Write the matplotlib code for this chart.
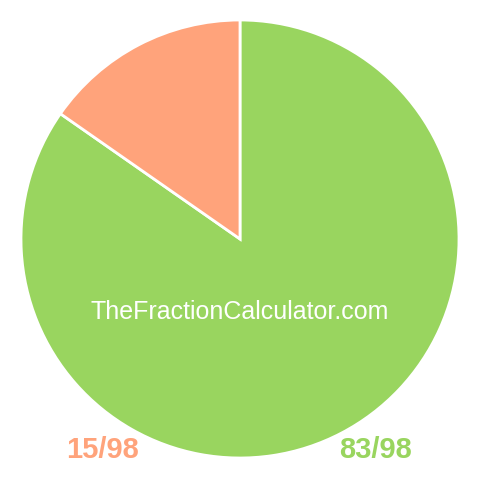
import matplotlib.pyplot as plt

# --- data ---
labels = ['83/98', '15/98']
values = [83, 15]
colors = ['#99D55F', '#FFA37B']
site_text = 'TheFractionCalculator.com'

plt.rcParams['font.family'] = ['Liberation Sans', 'DejaVu Sans']

fig = plt.figure(figsize=(4.8, 4.8), dpi=100)
ax = fig.add_axes([0, 0, 1, 1])

# axes use pixel coords with y flipped, so angles run mirrored:
# green starts at 12 o'clock and sweeps clockwise on screen
ax.pie(values, colors=colors, startangle=-90, counterclock=True,
       center=(240, 239), radius=219,
       wedgeprops=dict(edgecolor='white', linewidth=2))
ax.set_xlim(0, 480)
ax.set_ylim(480, 0)
ax.set_aspect('equal')
ax.axis('off')

ax.text(240, 312, site_text, color='white', fontsize=18,
        ha='center', va='center')
ax.text(103, 450, labels[1], color=colors[1], fontsize=21, weight='bold',
        ha='center', va='center')
ax.text(376, 450, labels[0], color=colors[0], fontsize=21, weight='bold',
        ha='center', va='center')

plt.savefig('out.png', dpi=100)
